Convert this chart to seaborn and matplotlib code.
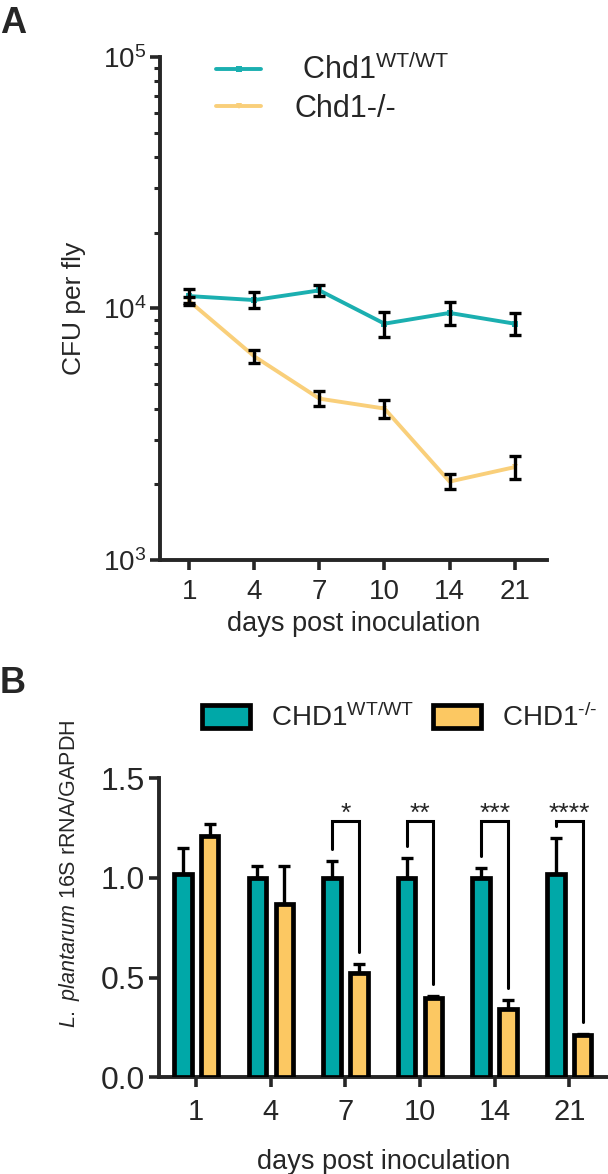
import numpy as np
import pandas as pd
import matplotlib
matplotlib.use("Agg")
import matplotlib.pyplot as plt
import seaborn as sns

# Data
days = ["1", "4", "7", "10", "14", "21"]

# panel A: CFU per fly
cfu_wt = [11200, 10800, 11800, 8700, 9600, 8700]
cfu_wt_err = [700, 800, 550, 1000, 1000, 850]
cfu_ko = [10700, 6450, 4380, 4000, 2050, 2340]
cfu_ko_err = [400, 380, 300, 330, 140, 250]

# panel B: L. plantarum 16S rRNA / GAPDH
rna_wt = [1.02, 1.00, 1.00, 1.00, 1.00, 1.02]
rna_wt_err = [0.13, 0.06, 0.085, 0.10, 0.05, 0.18]
rna_ko = [1.21, 0.87, 0.525, 0.40, 0.345, 0.215]
rna_ko_err = [0.06, 0.19, 0.045, 0.01, 0.045, 0.005]
stars = ["", "", "*", "**", "***", "****"]

teal_line = "#1BAFB0"
yellow_line = "#F9CF7A"
teal = "#00A8A8"
yellow = "#FCC862"

sns.set_style("white")
plt.rcParams["font.family"] = ["Liberation Sans", "DejaVu Sans"]
plt.rcParams["mathtext.fontset"] = "custom"
plt.rcParams["mathtext.rm"] = "Liberation Sans"
plt.rcParams["mathtext.it"] = "Liberation Sans:italic"
plt.rcParams["mathtext.default"] = "regular"

fig = plt.figure(figsize=(6.08, 11.74), dpi=100)

# ---------- Panel A ----------
axA = fig.add_axes([0.263, 0.523, 0.637, 0.4285])
x = np.arange(len(days))
dfA = pd.DataFrame({"day": x, "wt": cfu_wt, "ko": cfu_ko})
sns.lineplot(data=dfA, x="day", y="wt", ax=axA, color=teal_line, lw=2.8,
             marker="s", markersize=5, markeredgewidth=0, label=" Chd1$^{WT/WT}$")
sns.lineplot(data=dfA, x="day", y="ko", ax=axA, color=yellow_line, lw=2.8,
             marker="v", markersize=5, markeredgewidth=0, label="Chd1-/-")
axA.errorbar(x, cfu_wt, yerr=cfu_wt_err, fmt="none", ecolor="black",
             elinewidth=2.4, capsize=4, capthick=2.4, zorder=5)
axA.errorbar(x, cfu_ko, yerr=cfu_ko_err, fmt="none", ecolor="black",
             elinewidth=2.4, capsize=4, capthick=2.4, zorder=5)
axA.set_yscale("log")
axA.set_ylim(1e3, 1e5)
axA.set_xlim(-0.45, 5.5)
axA.set_xticks(x)
axA.set_xticklabels(days)
axA.set_xlabel("days post inoculation", fontsize=19.5, labelpad=4)
axA.set_ylabel("CFU per fly", fontsize=19)
axA.yaxis.set_label_coords(-0.19, 0.5)
for s in ["top", "right"]:
    axA.spines[s].set_visible(False)
for s in ["left", "bottom"]:
    axA.spines[s].set_linewidth(2.8)
axA.tick_params(axis="both", which="major", direction="out", length=7, width=2.6,
                labelsize=20, left=True, bottom=True, pad=3)
axA.tick_params(axis="y", which="minor", direction="out", length=4, width=2.2, left=True)
axA.tick_params(axis="x", which="major", pad=7)
axA.legend(loc="upper left", bbox_to_anchor=(0.075, 1.06), frameon=False, fontsize=22,
           handlelength=1.45, labelspacing=0.25, handletextpad=1.1)

# ---------- Panel B ----------
axB = fig.add_axes([0.2615, 0.0822, 0.7385, 0.2551])
dfB = pd.DataFrame({
    "day": days * 2,
    "value": rna_wt + rna_ko,
    "genotype": ["CHD1$^{WT/WT}$"] * len(days) + ["CHD1$^{\\text{-/-}}$"] * len(days),
})
sns.barplot(data=dfB, x="day", y="value", hue="genotype", ax=axB,
            palette=[teal, yellow], saturation=1, edgecolor="black", linewidth=3.4,
            width=0.72, gap=0.35, errorbar=None, zorder=3)

# upward-only error bars on each bar
centers = []
for cont, vals, errs in zip(axB.containers, [rna_wt, rna_ko], [rna_wt_err, rna_ko_err]):
    cx = [b.get_x() + b.get_width() / 2 for b in cont]
    centers.append(cx)
    axB.errorbar(cx, vals, yerr=[np.zeros(len(vals)), errs], fmt="none",
                 ecolor="black", elinewidth=2.4, capsize=4, capthick=2.4, zorder=2)

# significance brackets
top = 1.285
for i, s in enumerate(stars):
    if not s:
        continue
    xl, xr = centers[0][i], centers[1][i]
    yl = rna_wt[i] + rna_wt_err[i] + 0.06
    yr = rna_ko[i] + rna_ko_err[i] + 0.06
    axB.plot([xl, xl, xr, xr], [yl, top, top, yr], color="black", lw=2.2,
             solid_joinstyle="miter", clip_on=False, zorder=4)
    axB.text((xl + xr) / 2, top, s, ha="center", va="baseline", fontsize=19)

axB.set_ylim(0, 1.5)
axB.set_xlim(-0.5, 5.52)
axB.set_yticks([0, 0.5, 1.0, 1.5])
axB.set_yticklabels(["0.0", "0.5", "1.0", "1.5"])
axB.set_xlabel("days post inoculation", fontsize=19.5, labelpad=16)
axB.set_ylabel("$\\it{L.\\ plantarum}$ 16S rRNA/GAPDH", fontsize=15.5)
axB.yaxis.set_label_coords(-0.172, 0.68)
for s in ["top", "right"]:
    axB.spines[s].set_visible(False)
for s in ["left", "bottom"]:
    axB.spines[s].set_linewidth(2.8)
axB.tick_params(axis="y", direction="out", length=7, width=2.6, labelsize=23,
                left=True, pad=3)
axB.tick_params(axis="x", direction="out", length=7, width=2.6, labelsize=21,
                bottom=True, pad=8)
axB.legend(loc="lower left", bbox_to_anchor=(0.04, 1.07), ncol=2, frameon=False,
           fontsize=20, handlelength=1.73, handleheight=0.95, columnspacing=0.68,
           handletextpad=0.75, title=None)

# panel letters
fig.text(0.0, 0.995, "A", fontsize=26, fontweight="bold", va="top", ha="left")
fig.text(0.0, 0.4325, "B", fontsize=26, fontweight="bold", va="top", ha="left")

fig.savefig("out.png", dpi=100)
